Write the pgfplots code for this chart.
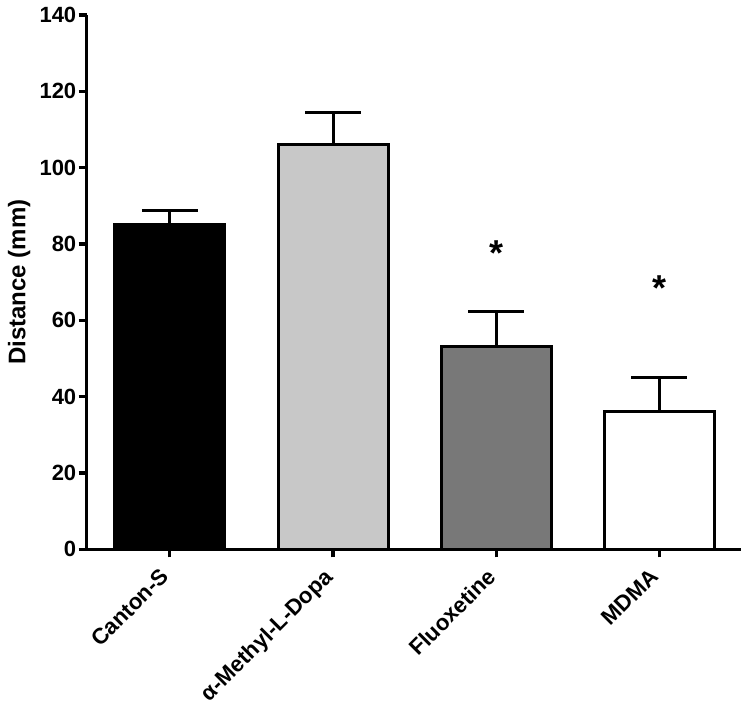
\documentclass[border=0pt]{standalone}
\usepackage{pgfplots}
\pgfplotsset{compat=1.18}
\usepackage{fontspec}
\setmainfont{Liberation Sans}
\definecolor{lightbar}{RGB}{200,200,200}
\definecolor{darkbar}{RGB}{120,120,120}
\begin{document}
\begin{tikzpicture}
\begin{axis}[
  scale only axis, width=327pt, height=267pt,
  xmin=-0.51, xmax=3.5, ymin=0, ymax=140,
  axis x line*=bottom, axis y line*=left,
  axis line style={line width=1.6pt, black},
  ytick={0,20,...,140},
  xtick={0,1,2,3},
  xticklabels={Canton-S, α-Methyl-L-Dopa, Fluoxetine, MDMA},
  tick align=outside, major tick length=4pt,
  tick style={line width=1.6pt, black},
  /pgf/number format/assume math mode=true,
  yticklabel style={font=\bfseries\fontsize{11}{13}\selectfont, inner sep=1pt},
  xticklabel style={font=\bfseries\fontsize{11.1}{13}\selectfont, rotate=45, anchor=north east, inner sep=0pt, xshift=-7pt, yshift=0.5pt},
  ylabel={Distance (mm)},
  ylabel style={font=\bfseries\fontsize{12}{14}\selectfont},
  ybar, bar width=55pt, bar shift=0pt,
  every axis plot/.append style={line width=1.5pt, draw=black},
  error bars/y dir=plus, error bars/y explicit,
  error bars/error mark options={rotate=90, mark size=14pt, line width=1.5pt, black},
  error bars/error bar style={line width=1.5pt, black},
  clip=false,
]
\addplot[fill=black] coordinates {(0,85.2) +- (0,3.7)};
\addplot[fill=lightbar] coordinates {(1,106.1) +- (0,8.3)};
\addplot[fill=darkbar] coordinates {(2,53.2) +- (0,9.2)};
\addplot[fill=white] coordinates {(3,36.2) +- (0,8.7)};
\node[font=\bfseries\fontsize{18}{20}\selectfont, inner sep=0pt] at (axis cs:2,77.5) {*};
\node[font=\bfseries\fontsize{18}{20}\selectfont, inner sep=0pt] at (axis cs:3,68.5) {*};
\end{axis}
\pgfresetboundingbox
\path ([xshift=-43.3pt,yshift=-80.5pt]current axis.south west) rectangle ([xshift=3.5pt,yshift=7.5pt]current axis.north east);
\end{tikzpicture}
\end{document}
